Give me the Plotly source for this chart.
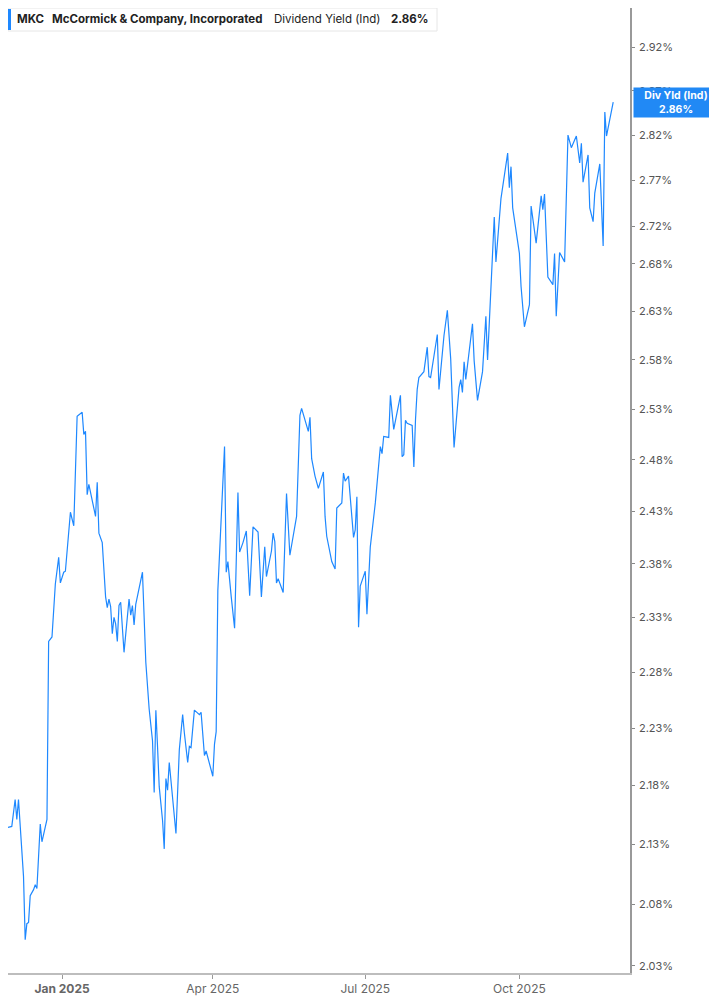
import math

import plotly.graph_objects as go

# daily dividend yield (indicated)
dates = [
    "2024-11-25", "2024-11-26", "2024-11-27", "2024-11-29", "2024-12-02", "2024-12-04", "2024-12-05", "2024-12-06", "2024-12-09", "2024-12-10",
    "2024-12-11", "2024-12-12", "2024-12-13", "2024-12-15", "2024-12-16", "2024-12-17", "2024-12-19", "2024-12-20", "2024-12-23", "2024-12-24",
    "2024-12-26", "2024-12-28", "2024-12-30", "2024-12-31", "2025-01-02", "2025-01-03", "2025-01-06", "2025-01-08", "2025-01-10", "2025-01-13",
    "2025-01-14", "2025-01-15", "2025-01-16", "2025-01-17", "2025-01-21", "2025-01-22", "2025-01-23", "2025-01-25", "2025-01-27", "2025-01-28",
    "2025-01-29", "2025-01-30", "2025-01-31", "2025-02-01", "2025-02-02", "2025-02-03", "2025-02-04", "2025-02-05", "2025-02-07", "2025-02-10",
    "2025-02-11", "2025-02-12", "2025-02-13", "2025-02-14", "2025-02-18", "2025-02-20", "2025-02-22", "2025-02-24", "2025-02-25", "2025-02-26",
    "2025-02-27", "2025-02-28", "2025-03-02", "2025-03-03", "2025-03-04", "2025-03-05", "2025-03-06", "2025-03-08", "2025-03-10", "2025-03-12",
    "2025-03-14", "2025-03-15", "2025-03-17", "2025-03-18", "2025-03-19", "2025-03-21", "2025-03-23", "2025-03-24", "2025-03-25", "2025-03-27",
    "2025-03-28", "2025-04-01", "2025-04-02", "2025-04-03", "2025-04-04", "2025-04-06", "2025-04-08", "2025-04-09", "2025-04-10", "2025-04-12",
    "2025-04-14", "2025-04-16", "2025-04-17", "2025-04-19", "2025-04-21", "2025-04-23", "2025-04-25", "2025-04-28", "2025-04-30", "2025-05-02",
    "2025-05-03", "2025-05-06", "2025-05-07", "2025-05-08", "2025-05-09", "2025-05-10", "2025-05-13", "2025-05-15", "2025-05-17", "2025-05-21",
    "2025-05-23", "2025-05-24", "2025-05-28", "2025-05-29", "2025-05-30", "2025-06-01", "2025-06-03", "2025-06-06", "2025-06-07", "2025-06-08",
    "2025-06-11", "2025-06-13", "2025-06-14", "2025-06-17", "2025-06-18", "2025-06-19", "2025-06-21", "2025-06-24", "2025-06-25", "2025-06-26",
    "2025-06-27", "2025-06-28", "2025-07-01", "2025-07-02", "2025-07-04", "2025-07-07", "2025-07-10", "2025-07-11", "2025-07-12", "2025-07-15",
    "2025-07-16", "2025-07-18", "2025-07-22", "2025-07-23", "2025-07-24", "2025-07-25", "2025-07-26", "2025-07-29", "2025-07-30", "2025-07-31",
    "2025-08-01", "2025-08-02", "2025-08-05", "2025-08-07", "2025-08-08", "2025-08-09", "2025-08-11", "2025-08-13", "2025-08-14", "2025-08-17",
    "2025-08-19", "2025-08-21", "2025-08-23", "2025-08-26", "2025-08-27", "2025-08-28", "2025-08-29", "2025-08-30", "2025-09-03", "2025-09-04",
    "2025-09-06", "2025-09-09", "2025-09-11", "2025-09-12", "2025-09-16", "2025-09-17", "2025-09-20", "2025-09-24", "2025-09-25", "2025-09-26",
    "2025-09-27", "2025-10-01", "2025-10-02", "2025-10-04", "2025-10-07", "2025-10-08", "2025-10-11", "2025-10-14", "2025-10-15", "2025-10-16",
    "2025-10-18", "2025-10-21", "2025-10-22", "2025-10-23", "2025-10-25", "2025-10-28", "2025-10-30", "2025-11-01", "2025-11-04", "2025-11-06",
    "2025-11-07", "2025-11-08", "2025-11-11", "2025-11-12", "2025-11-14", "2025-11-15", "2025-11-18", "2025-11-20", "2025-11-21", "2025-11-22",
    "2025-11-26",
]

div_yield = [
    2.175, 2.160, 2.159, 2.144, 2.145, 2.168, 2.151, 2.168, 2.103, 2.051,
    2.064, 2.065, 2.087, 2.092, 2.096, 2.093, 2.147, 2.132, 2.151, 2.308,
    2.312, 2.361, 2.386, 2.362, 2.372, 2.373, 2.429, 2.416, 2.523, 2.527,
    2.505, 2.508, 2.446, 2.456, 2.425, 2.458, 2.409, 2.400, 2.349, 2.339,
    2.347, 2.340, 2.315, 2.330, 2.324, 2.308, 2.341, 2.344, 2.298, 2.347,
    2.332, 2.341, 2.323, 2.342, 2.372, 2.289, 2.247, 2.219, 2.174, 2.246,
    2.214, 2.179, 2.150, 2.126, 2.186, 2.176, 2.200, 2.168, 2.139, 2.211,
    2.242, 2.226, 2.200, 2.214, 2.213, 2.246, 2.243, 2.242, 2.244, 2.206,
    2.210, 2.188, 2.216, 2.227, 2.355, 2.422, 2.493, 2.372, 2.382, 2.349,
    2.320, 2.448, 2.391, 2.400, 2.411, 2.350, 2.415, 2.410, 2.349, 2.396,
    2.368, 2.392, 2.409, 2.401, 2.362, 2.366, 2.353, 2.447, 2.388, 2.425,
    2.524, 2.531, 2.508, 2.522, 2.481, 2.464, 2.452, 2.468, 2.425, 2.406,
    2.382, 2.375, 2.433, 2.438, 2.467, 2.459, 2.464, 2.405, 2.412, 2.444,
    2.321, 2.359, 2.373, 2.333, 2.396, 2.438, 2.493, 2.486, 2.503, 2.502,
    2.544, 2.510, 2.544, 2.483, 2.485, 2.519, 2.516, 2.514, 2.473, 2.520,
    2.550, 2.562, 2.568, 2.593, 2.563, 2.562, 2.583, 2.606, 2.550, 2.605,
    2.631, 2.581, 2.492, 2.552, 2.560, 2.547, 2.578, 2.560, 2.617, 2.579,
    2.539, 2.568, 2.625, 2.580, 2.730, 2.682, 2.750, 2.800, 2.762, 2.785,
    2.740, 2.691, 2.656, 2.614, 2.637, 2.742, 2.702, 2.753, 2.738, 2.755,
    2.666, 2.658, 2.691, 2.625, 2.692, 2.682, 2.820, 2.806, 2.819, 2.789,
    2.811, 2.768, 2.798, 2.740, 2.725, 2.756, 2.788, 2.699, 2.846, 2.819,
    2.857,
]
assert len(dates) == len(div_yield)

y_ticks = [2.03, 2.08, 2.13, 2.18, 2.23, 2.28, 2.33, 2.38, 2.43, 2.48,
           2.53, 2.58, 2.63, 2.68, 2.72, 2.77, 2.82, 2.87, 2.92, 2.97]
x_ticks = ["2025-01-01", "2025-04-01", "2025-07-01", "2025-10-01"]
x_tick_text = ["<b>Jan 2025</b>", "Apr 2025", "Jul 2025", "Oct 2025"]

ticker = "MKC"
company = "McCormick & Company, Incorporated"
metric = "Dividend Yield (Ind)"
tag_label = "Div Yld (Ind)"

BLUE = "#1e88ff"
FONT = "Inter, Roboto, sans-serif"
W, H = 717, 1005
# the page puts the figure 8px in from the window corner
OFF = 8
PLOT_R, PLOT_B = 630, 973  # plot edges in window pixels
PW, PH = PLOT_R - OFF, PLOT_B - OFF

fig = go.Figure()
fig.add_trace(go.Scatter(
    x=dates, y=div_yield, mode="lines",
    line=dict(color=BLUE, width=1.2),
    hoverinfo="skip", showlegend=False,
))

last = div_yield[-1]


def px_x(p):
    return (p - OFF) / PW


def px_y(p):
    return 1 - (p - OFF) / PH


# header box
fig.add_shape(type="rect", xref="paper", yref="paper",
              x0=px_x(8), x1=px_x(437), y0=px_y(31), y1=px_y(8),
              fillcolor="white", line=dict(color="#e6e6e6", width=1), layer="above")
fig.add_shape(type="rect", xref="paper", yref="paper",
              x0=px_x(8), x1=px_x(11), y0=px_y(30), y1=px_y(9),
              fillcolor=BLUE, line=dict(width=0), layer="above")
for x0, txt in [(15, f"<b>{ticker}</b>"), (50, f"<b>{company}</b>"),
                (272, metric), (389, f"<b>{last:.2f}%</b>")]:
    fig.add_annotation(xref="paper", yref="paper", x=px_x(x0), y=px_y(19.5),
                       xanchor="left", yanchor="middle", showarrow=False,
                       text=txt, font=dict(family=FONT, size=11.5, color="#222"))

# last value tag on the price axis
fig.add_annotation(xref="paper", yref="y", x=1, y=math.log10(last),
                   xanchor="left", yanchor="middle", showarrow=False, xshift=3,
                   text=f"<b>{tag_label}</b><br><b>{last:.2f}%</b>",
                   font=dict(family=FONT, size=10.5, color="white"),
                   bgcolor="#2189f5", width=82, height=27, borderpad=1)

fig.update_xaxes(
    type="date", range=["2024-11-29 17:46", "2025-12-06 00:40"],
    tickvals=x_ticks, ticktext=x_tick_text,
    ticks="outside", ticklen=4, tickcolor="#999",
    showline=True, linecolor="#bdbdbd", linewidth=2,
    showgrid=False, zeroline=False,
    tickfont=dict(family=FONT, size=12, color="#666"),
)
fig.update_yaxes(
    type="log", side="right",
    range=[math.log10(2.0241), math.log10(2.9655)],
    tickvals=y_ticks, ticktext=[f"{v:.2f}%" for v in y_ticks],
    ticks="outside", ticklen=3, tickcolor="#888", ticklabelstandoff=2,
    showline=True, linecolor="#999", linewidth=1.5,
    showgrid=False, zeroline=False,
    tickfont=dict(family=FONT, size=11, color="#555"),
)
fig.update_layout(
    width=W, height=H,
    margin=dict(l=0, r=W - PW, t=0, b=H - PH),
    paper_bgcolor="white", plot_bgcolor="white",
    font=dict(family=FONT),
)

fig.write_html("out.html")
